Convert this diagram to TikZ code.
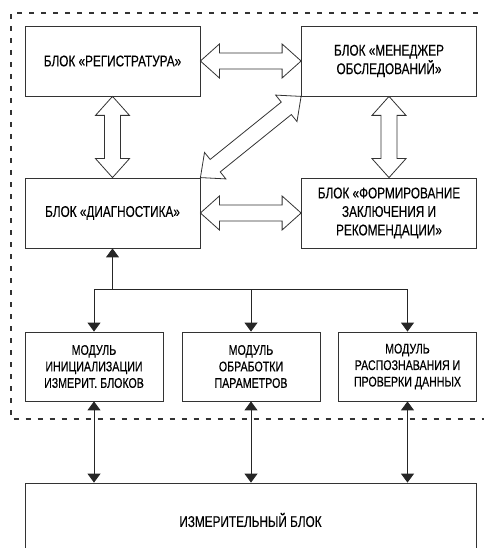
\documentclass[tikz,border=0pt]{standalone}
\usepackage{fontspec}
\setmainfont{Liberation Sans}[FakeStretch=0.76, FakeBold=0.3]
\usetikzlibrary{calc, arrows.meta}
\tikzset{block/.style={draw=black!80, line width=0.8pt, align=center, inner sep=0pt, text=black, font=\fontsize{15.5}{18.5}\selectfont}}
\tikzset{bigblock/.style={block, minimum width=175pt, minimum height=70pt}}
\tikzset{modblock/.style={block, minimum width=138pt, minimum height=69pt, font=\fontsize{14}{16.5}\selectfont}}
\tikzset{fat/.style={draw=black!80, line width=0.8pt, line join=miter}}
\tikzset{link/.style={draw=black!85, line width=0.9pt, ->}}
\tikzset{dlink/.style={link, <->}}
\tikzset{frame/.style={draw=black!80, line width=2pt, dash pattern=on 5pt off 7pt}}
\newcommand{\fatarrow}[2]{%
  \coordinate (fa) at ($(#1)!19pt!(#2)$);
  \coordinate (fb) at ($(#2)!19pt!(#1)$);
  \draw[fat] (#1) -- ($(fa)!17pt!90:(#2)$) -- ($(fa)!8pt!90:(#2)$) -- ($(fb)!8pt!-90:(#1)$) -- ($(fb)!17pt!-90:(#1)$) -- (#2)
    -- ($(fb)!17pt!90:(#1)$) -- ($(fb)!8pt!90:(#1)$) -- ($(fa)!8pt!-90:(#2)$) -- ($(fa)!17pt!-90:(#2)$) -- cycle;%
}

\begin{document}
\begin{tikzpicture}[x=1pt, y=-1pt, >={Triangle[width=13pt, length=9pt]}]
            \useasboundingbox (0, 0) rectangle (483, 548);
            \draw[frame] (490, 13.5) -- (10.5, 13.5) -- (10.5, 419) -- (490, 419);
            \node[bigblock] (reg) at (112.5, 61) {БЛОК «РЕГИСТРАТУРА»};
            \node[bigblock] (men) at (389, 61) {БЛОК «МЕНЕДЖЕР\\ОБСЛЕДОВАНИЙ»};
            \node[bigblock] (diag) at (112.5, 213) {БЛОК «ДИАГНОСТИКА»};
            \node[bigblock] (form) at (389, 213) {БЛОК «ФОРМИРОВАНИЕ\\ЗАКЛЮЧЕНИЯ И\\РЕКОМЕНДАЦИИ»};
            \node[modblock] (init) at (94, 366.5) {МОДУЛЬ\\ИНИЦИАЛИЗАЦИИ\\ИЗМЕРИТ. БЛОКОВ};
            \node[modblock] (proc) at (251, 366.5) {МОДУЛЬ\\ОБРАБОТКИ\\ПАРАМЕТРОВ};
            \node[modblock] (check) at (407.5, 366.5) {МОДУЛЬ\\РАСПОЗНАВАНИЯ И\\ПРОВЕРКИ ДАННЫХ};
            \node[block, minimum width=451pt, minimum height=74pt] (meas) at (250.5, 520) {ИЗМЕРИТЕЛЬНЫЙ БЛОК};
            \fatarrow{reg.east}{men.west}
            \fatarrow{reg.south}{diag.north}
            \fatarrow{men.south}{form.north}
            \fatarrow{diag.north east}{men.south west}
            \fatarrow{diag.east}{form.west}
            \coordinate (bus) at ($(diag.south) + (0, 41)$);
            \coordinate (busl) at (init.north |- bus);
            \coordinate (busm) at (proc.north |- bus);
            \coordinate (busr) at (check.north |- bus);
            \draw[link] (bus) -- (diag.south);
            \draw[link, -] (busl) -- (busr);
            \draw[link] (busl) -- (init.north);
            \draw[link] (busm) -- (proc.north);
            \draw[link] (busr) -- (check.north);
            \draw[dlink] (init.south) -- (init.south |- meas.north);
            \draw[dlink] (proc.south) -- (proc.south |- meas.north);
            \draw[dlink] (check.south) -- (check.south |- meas.north);
        \end{tikzpicture}
\end{document}
